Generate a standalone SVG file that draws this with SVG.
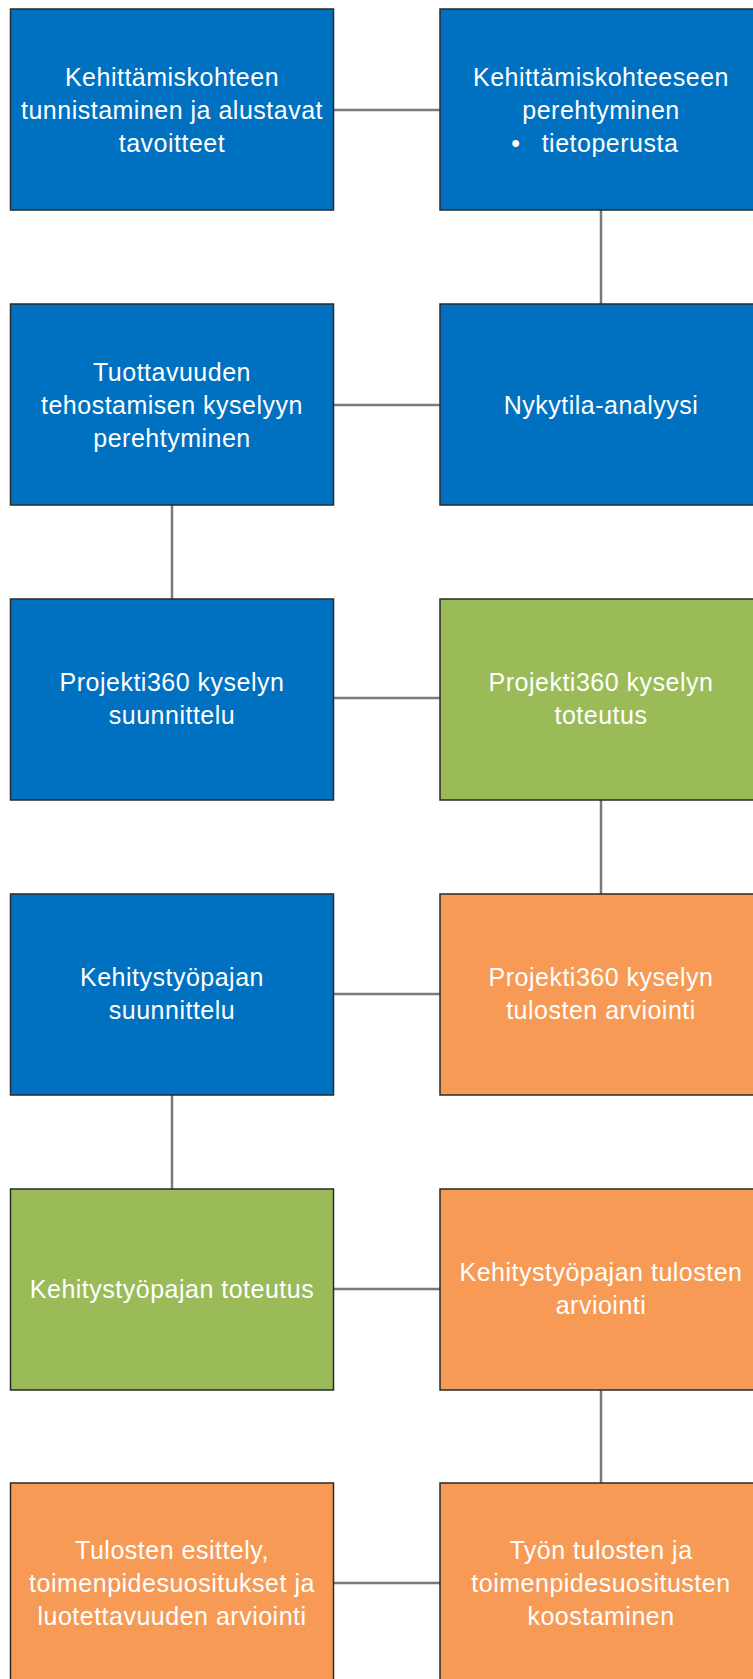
<svg xmlns="http://www.w3.org/2000/svg" width="753" height="1679" viewBox="0 0 753 1679">
<style>
.box{stroke:#2a2a2a;stroke-width:1.5}
.blue{fill:#0070C0}
.green{fill:#9BBB59}
.orange{fill:#F79A55}
.conn{stroke:#7a7a7a;stroke-width:2.5;fill:none}
text{font-family:"Liberation Sans",Arial,sans-serif;font-size:25px;letter-spacing:0.5px;fill:#ffffff;text-anchor:middle;dominant-baseline:central}
</style>
<rect width="753" height="1679" fill="#ffffff"/>
<g id="connectors">
<line class="conn" x1="333" y1="110" x2="440" y2="110"/>
<line class="conn" x1="601" y1="210" x2="601" y2="304"/>
<line class="conn" x1="333" y1="405" x2="440" y2="405"/>
<line class="conn" x1="172" y1="505" x2="172" y2="599"/>
<line class="conn" x1="333" y1="698" x2="440" y2="698"/>
<line class="conn" x1="601" y1="800" x2="601" y2="894"/>
<line class="conn" x1="333" y1="994" x2="440" y2="994"/>
<line class="conn" x1="172" y1="1095" x2="172" y2="1189"/>
<line class="conn" x1="333" y1="1289" x2="440" y2="1289"/>
<line class="conn" x1="601" y1="1390" x2="601" y2="1483"/>
<line class="conn" x1="333" y1="1583" x2="440" y2="1583"/>
</g>
<g id="n1"><rect class="box blue" x="10.5" y="9" width="323" height="201"/>
<text x="172" y="77">Kehittämiskohteen</text><text x="172" y="110">tunnistaminen ja alustavat</text><text x="172" y="143">tavoitteet</text></g>
<g id="n2"><rect class="box blue" x="440" y="9" width="323" height="201"/>
<text x="601" y="77">Kehittämiskohteeseen</text><text x="601" y="110">perehtyminen</text><text x="516" y="143">•</text><text x="610" y="143">tietoperusta</text></g>
<g id="n3"><rect class="box blue" x="10.5" y="304" width="323" height="201"/>
<text x="172" y="372">Tuottavuuden</text><text x="172" y="405">tehostamisen kyselyyn</text><text x="172" y="438">perehtyminen</text></g>
<g id="n4"><rect class="box blue" x="440" y="304" width="323" height="201"/>
<text x="601" y="405">Nykytila-analyysi</text></g>
<g id="n5"><rect class="box blue" x="10.5" y="599" width="323" height="201"/>
<text x="172" y="682">Projekti360 kyselyn</text><text x="172" y="715">suunnittelu</text></g>
<g id="n6"><rect class="box green" x="440" y="599" width="323" height="201"/>
<text x="601" y="682">Projekti360 kyselyn</text><text x="601" y="715">toteutus</text></g>
<g id="n7"><rect class="box blue" x="10.5" y="894" width="323" height="201"/>
<text x="172" y="977">Kehitystyöpajan</text><text x="172" y="1010">suunnittelu</text></g>
<g id="n8"><rect class="box orange" x="440" y="894" width="323" height="201"/>
<text x="601" y="977">Projekti360 kyselyn</text><text x="601" y="1010">tulosten arviointi</text></g>
<g id="n9"><rect class="box green" x="10.5" y="1189" width="323" height="201"/>
<text x="172" y="1289">Kehitystyöpajan toteutus</text></g>
<g id="n10"><rect class="box orange" x="440" y="1189" width="323" height="201"/>
<text x="601" y="1272">Kehitystyöpajan tulosten</text><text x="601" y="1305">arviointi</text></g>
<g id="n11"><rect class="box orange" x="10.5" y="1483" width="323" height="201"/>
<text x="172" y="1550">Tulosten esittely,</text><text x="172" y="1583">toimenpidesuositukset ja</text><text x="172" y="1616">luotettavuuden arviointi</text></g>
<g id="n12"><rect class="box orange" x="440" y="1483" width="323" height="201"/>
<text x="601" y="1550">Työn tulosten ja</text><text x="601" y="1583">toimenpidesuositusten</text><text x="601" y="1616">koostaminen</text></g>
</svg>
